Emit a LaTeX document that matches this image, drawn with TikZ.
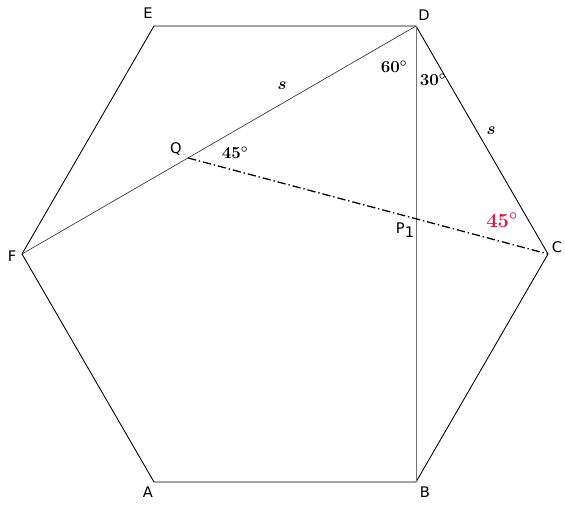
\documentclass[tikz,border=0pt]{standalone}
\usepackage{fontspec}
\usepackage{amsmath}
\newfontfamily\vertexfont{DejaVu Sans}
\usetikzlibrary{arrows,positioning,calc}
\definecolor{anglered}{RGB}{225,25,65}

\begin{document}
\begin{tikzpicture}[
            x = 0.03cm, % one pixel
            y = -0.03cm,
            semithick % line style
        ]

        \tikzstyle{vertex}=[
            font = \vertexfont\fontsize{12.5}{15}\selectfont,
            inner sep = 1pt
        ]
        \tikzstyle{angle}=[
            font = \fontsize{14}{16}\selectfont\boldmath
        ]

        \useasboundingbox (0,0) rectangle (565,504);

        % Hexagon corners
        \coordinate (e) at (154,26);
        \coordinate (d) at (416,26);
        \coordinate (c) at (548,254);
        \coordinate (b) at (416,482);
        \coordinate (a) at (154,482);
        \coordinate (f) at (22,254);
        \coordinate (q) at ($(d)!0.5787!(f)$);
        \coordinate (p) at (416,218);

        \draw[line width=0.75pt] (a) -- (b) -- (c) -- (d) -- (e) -- (f) -- cycle;
        \draw[line width=0.6pt, black!75] (d) -- (f);
        \draw[line width=0.6pt, black!55] (d) -- (b);
        \draw[line width=1.1pt, dash pattern=on 7pt off 2.5pt on 1.2pt off 2.5pt] (q) -- (c);

        % Labels
        \node[vertex] (le) at (148,13) {E};
        \node[vertex] (ld) at (424,15) {D};
        \node[vertex] (lc) at (557,247) {C};
        \node[vertex] (lb) at (425,492) {B};
        \node[vertex] (la) at (148,492) {A};
        \node[vertex] (lf) at (12,256) {F};
        \node[vertex] (lq) at (176,149) {Q};
        \node[vertex] (lp) at (405,230) {P\raisebox{-0.5ex}{1}};

        \node[angle] (a60) at (394,67) {$60^\circ$};
        \node[angle] (a30) at (433,80) {$30^\circ$};
        \node[angle] (a45) at (235,153) {$45^\circ$};
        \node[angle, anglered, font=\fontsize{18}{20}\selectfont\boldmath] (r45) at (502,220) {$45^\circ$};
        \node[angle] (s1) at (282,86) {$s$};
        \node[angle] (s2) at (491,131) {$s$};

\end{tikzpicture}
\end{document}
